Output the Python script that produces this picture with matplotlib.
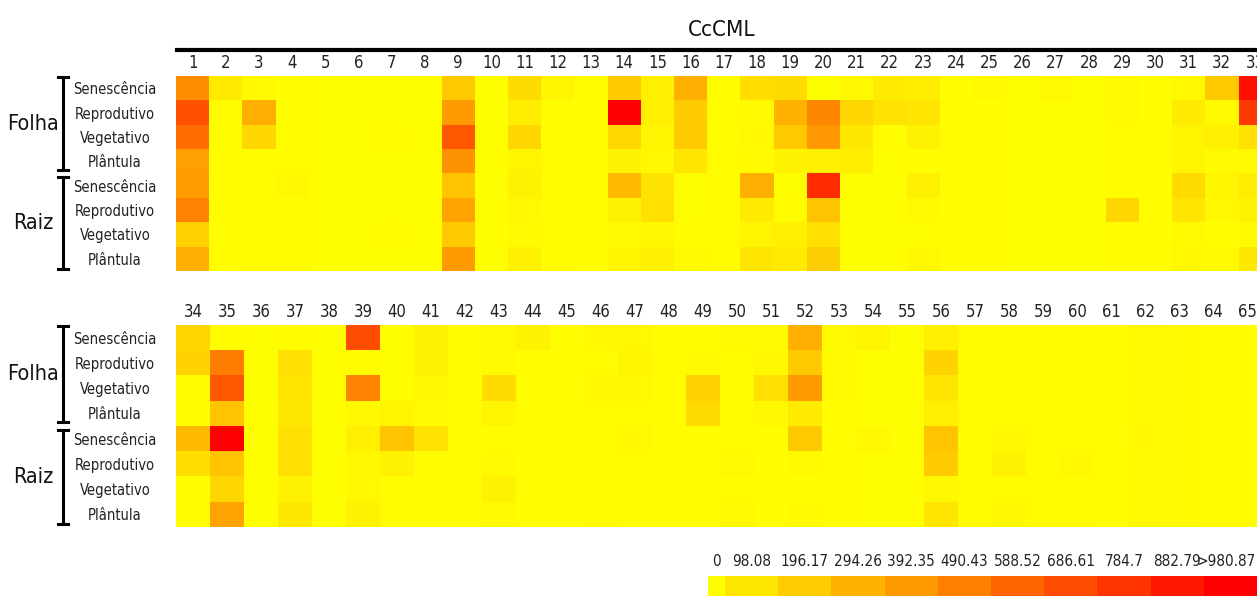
import numpy as np
import matplotlib
matplotlib.use("Agg")
import matplotlib.pyplot as plt
from matplotlib.colors import LinearSegmentedColormap
from matplotlib import transforms
from matplotlib import font_manager

# fonte estreita se existir (o original usa Arial Narrow)
narrow = font_manager.findfont(font_manager.FontProperties(family='DejaVu Sans', stretch='condensed'))
HAS_NARROW = 'Condensed' in narrow
if HAS_NARROW:
    plt.rcParams['font.family'] = ['DejaVu Sans']
    plt.rcParams['font.stretch'] = 'condensed'
    LEG_SIZE = 11
else:
    plt.rcParams['font.family'] = ['Liberation Sans', 'DejaVu Sans']
    LEG_SIZE = 10

W, H = 1257, 596

TITLE       = "CcCML"
STAGES      = ["Senescência", "Reprodutivo", "Vegetativo", "Plântula"]
ORGANS      = ["Folha", "Raiz"]
COLUMNS     = list(range(1, 66))
SPLIT       = 33
VMAX        = 980.87
LEGEND_TICKS = ["0", "98.08", "196.17", "294.26", "392.35", "490.43",
                "588.52", "686.61", "784.7", "882.79", ">980.87"]
LEGEND_VALUES = [0, 98.08, 196.17, 294.26, 392.35, 490.43,
                 588.52, 686.61, 784.7, 882.79, 980.87]

# one list per row, samples 1..65
folha_senescencia = [440, 80, 20, 10, 5, 5, 5, 5, 210, 5, 135, 40, 10, 210, 60, 310, 15, 130, 140, 5,
                     30, 80, 70, 10, 20, 5, 25, 5, 20, 10, 30, 210, 920,
                     160, 10, 5, 10, 5, 690, 5, 50, 10, 20, 50, 10, 30, 30, 10, 10, 20, 20, 310, 20,
                     40, 5, 60, 15, 15, 15, 15, 10, 25, 20, 15, 15]
folha_reprodutivo = [670, 15, 310, 10, 5, 5, 5, 5, 390, 5, 70, 15, 10, 980, 60, 200, 15, 20, 290, 460,
                     160, 110, 100, 10, 10, 5, 5, 5, 20, 10, 80, 20, 770,
                     170, 500, 5, 120, 5, 10, 5, 50, 10, 20, 10, 10, 15, 40, 10, 20, 15, 30, 210, 20,
                     5, 5, 170, 15, 15, 15, 15, 10, 25, 20, 15, 15]
folha_vegetativo  = [560, 15, 160, 10, 5, 5, 10, 5, 650, 5, 160, 15, 10, 150, 40, 210, 15, 30, 210, 400,
                     90, 15, 50, 10, 10, 5, 5, 5, 10, 10, 40, 60, 120,
                     10, 650, 5, 100, 5, 480, 5, 30, 10, 140, 10, 10, 30, 30, 10, 180, 15, 120, 390, 20,
                     5, 5, 100, 15, 15, 15, 15, 10, 25, 20, 15, 15]
folha_plantula    = [370, 10, 15, 15, 5, 5, 5, 5, 420, 5, 40, 15, 10, 50, 30, 100, 15, 20, 50, 60,
                     70, 5, 10, 10, 10, 5, 5, 5, 10, 10, 40, 20, 30,
                     10, 230, 5, 90, 5, 30, 40, 20, 10, 40, 10, 10, 15, 15, 10, 140, 15, 30, 80, 10,
                     5, 5, 60, 15, 15, 15, 15, 10, 25, 20, 15, 15]
raiz_senescencia  = [380, 10, 15, 30, 5, 5, 5, 5, 230, 5, 50, 15, 10, 270, 110, 5, 15, 310, 5, 810,
                     5, 5, 60, 10, 10, 5, 5, 5, 10, 10, 140, 40, 70,
                     270, 980, 5, 120, 5, 60, 230, 110, 10, 10, 10, 10, 15, 30, 10, 10, 15, 10, 210, 10,
                     30, 5, 230, 15, 30, 15, 15, 10, 30, 20, 15, 15]
raiz_reprodutivo  = [480, 10, 15, 10, 5, 5, 5, 5, 350, 5, 30, 15, 10, 50, 120, 5, 15, 80, 15, 230,
                     5, 5, 20, 10, 10, 5, 5, 5, 160, 10, 100, 30, 50,
                     130, 230, 5, 120, 5, 30, 50, 10, 10, 20, 10, 10, 15, 15, 10, 10, 25, 10, 20, 10,
                     5, 5, 200, 15, 50, 15, 30, 10, 25, 20, 15, 15]
raiz_vegetativo   = [180, 10, 15, 10, 5, 5, 10, 5, 200, 5, 20, 15, 10, 20, 30, 10, 15, 40, 60, 120,
                     5, 5, 5, 10, 10, 5, 5, 5, 10, 10, 20, 10, 20,
                     10, 160, 5, 50, 5, 30, 10, 10, 10, 50, 10, 10, 15, 10, 10, 10, 15, 10, 10, 10,
                     5, 5, 30, 15, 15, 15, 15, 10, 25, 20, 15, 15]
raiz_plantula     = [310, 10, 15, 15, 5, 5, 5, 5, 390, 5, 60, 15, 10, 40, 60, 20, 15, 100, 80, 190,
                     5, 5, 30, 10, 10, 5, 5, 5, 10, 10, 30, 20, 90,
                     10, 350, 5, 90, 5, 50, 10, 10, 10, 20, 10, 10, 15, 10, 10, 10, 25, 10, 20, 10,
                     5, 5, 100, 15, 30, 15, 15, 10, 25, 20, 15, 15]

values = np.array([folha_senescencia, folha_reprodutivo, folha_vegetativo, folha_plantula,
                   raiz_senescencia, raiz_reprodutivo, raiz_vegetativo, raiz_plantula])

cmap = LinearSegmentedColormap.from_list("amarelo_vermelho", ["#ffff00", "#ff0000"])


def px_box(left, top, right, bottom):
    return [left / W, 1 - bottom / H, (right - left) / W, (bottom - top) / H]


def draw_panel(fig, box, data, labels):
    ax = fig.add_axes(px_box(*box))
    ax.imshow(data, cmap=cmap, vmin=0, vmax=VMAX, aspect='auto', interpolation='nearest')
    ax.xaxis.tick_top()
    ax.set_xticks(range(len(labels)))
    ax.set_xticklabels(labels, fontsize=12, color='#222222')
    ax.set_yticks(range(8))
    ax.set_yticklabels(STAGES * 2, fontsize=10.5, ha='center', color='#222222')
    ax.tick_params(axis='x', length=0, pad=3)
    ax.tick_params(axis='y', length=0, pad=44)
    for s in ax.spines.values():
        s.set_visible(False)

    # chaves de Folha / Raiz
    tr = transforms.blended_transform_factory(fig.transFigure, ax.transData)
    xb = 63 / W
    cap = 5 / W
    for organ, (y0, y1) in zip(ORGANS, [(-0.45, 3.35), (3.65, 7.4)]):
        ax.plot([xb, xb], [y0, y1], color='black', lw=2.2, transform=tr, clip_on=False)
        for y in (y0, y1):
            ax.plot([xb - cap, xb + cap], [y, y], color='black', lw=2.2,
                    transform=tr, clip_on=False)
        ax.text(33 / W, (y0 + y1) / 2, organ, transform=tr, ha='center', va='center',
                fontsize=15.5, color='#111111')
    return ax


fig = plt.figure(figsize=(W / 100, H / 100), dpi=100)

draw_panel(fig, (176, 76, 176 + SPLIT * 33.2, 271), values[:, :SPLIT], COLUMNS[:SPLIT])
draw_panel(fig, (176, 325, 176 + (len(COLUMNS) - SPLIT) * 34.0, 527), values[:, SPLIT:], COLUMNS[SPLIT:])

# titulo e linha
fig.text(722 / W, 1 - 30 / H, TITLE, ha='center', va='center', fontsize=16, color='#111111')
fig.add_artist(plt.Line2D([177 / W, 1.0], [1 - 50 / H, 1 - 50 / H], color='black', lw=3,
                          transform=fig.transFigure))

# legenda discreta
lax = fig.add_axes(px_box(708, 576, 1257, 596))
edges = np.concatenate([[0, 17], 17 + np.arange(1, len(LEGEND_VALUES)) * (549 - 17) / (len(LEGEND_VALUES) - 1)])
lax.pcolormesh(edges, [0, 1], np.array([LEGEND_VALUES]), cmap=cmap, vmin=0, vmax=VMAX)
lax.set_xlim(0, 549)
lax.set_ylim(0, 1)
lax.axis('off')
centers = (edges[:-1] + edges[1:]) / 2
for i, (c, lab) in enumerate(zip(centers, LEGEND_TICKS)):
    last = i == len(LEGEND_TICKS) - 1
    lax.text(548 if last else c, 1.35, lab, ha='right' if last else 'center', va='bottom',
             fontsize=LEG_SIZE, color='#222222', transform=lax.transData, clip_on=False)

fig.savefig("out.png", dpi=100)
